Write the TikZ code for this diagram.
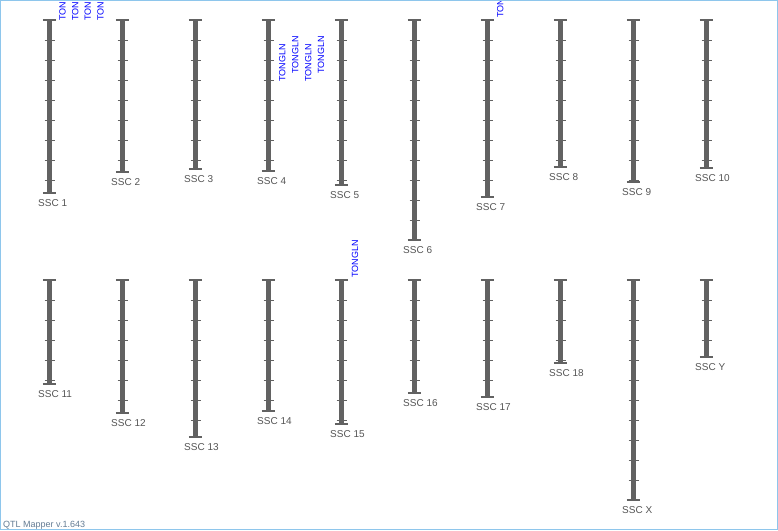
\documentclass[tikz,border=0pt]{standalone}
\usepackage{fontspec}
\setmainfont{Liberation Sans}
\definecolor{barcol}{HTML}{626262}
\definecolor{labcol}{HTML}{555555}
\definecolor{framecol}{HTML}{8EC6EC}
\definecolor{vercol}{HTML}{647C94}
\tikzset{
  chrbar/.style={line width=4.6pt, draw=barcol},
  chrcap/.style={line width=2pt, draw=barcol},
  chrtick/.style={line width=1pt, draw=barcol},
  chrlabel/.style={font=\fontsize{10}{12}\selectfont, text=labcol, anchor=west, inner sep=0pt},
  qtllabel/.style={font=\fontsize{9}{11}\selectfont, text=blue, rotate=90, anchor=west, inner sep=0pt},
  verlabel/.style={font=\fontsize{9}{11}\selectfont, text=vercol, anchor=base west, inner sep=0pt}
}
\newcommand\chrom[5]{%
  \pgfmathtruncatemacro\nticks{floor((#3-#2-1)/20)}%
  \draw[chrbar] (#1,#2) -- (#1,#3);
  \foreach \k in {1,...,\nticks} {\draw[chrtick] (#1-5,#2+20*\k+0.5) -- (#1+5,#2+20*\k+0.5);}
  \draw[chrcap] (#1-6.7,#2) -- (#1+6.7,#2);
  \draw[chrcap] (#1-6.7,#3) -- (#1+6.7,#3);
  \node[chrlabel] (#5) at (#1-11.5,#3+10.5) {#4};
}
\begin{document}
\begin{tikzpicture}[x=1pt,y=-1pt]
\useasboundingbox (0,0) rectangle (778,530);
\fill[white] (0,0) rectangle (778,530);
\begin{scope}
\clip (0,0) rectangle (778,530);
% top row
\chrom{49.5}{20}{193}{SSC 1}{c1}
\chrom{122.5}{20}{172}{SSC 2}{c2}
\chrom{195.5}{20}{169}{SSC 3}{c3}
\chrom{268.5}{20}{171}{SSC 4}{c4}
\chrom{341.5}{20}{185}{SSC 5}{c5}
\chrom{414.5}{20}{240}{SSC 6}{c6}
\chrom{487.5}{20}{197}{SSC 7}{c7}
\chrom{560.5}{20}{167}{SSC 8}{c8}
\chrom{633.5}{20}{182}{SSC 9}{c9}
\chrom{706.5}{20}{168}{SSC 10}{c10}
% bottom row
\chrom{49.5}{280}{384}{SSC 11}{c11}
\chrom{122.5}{280}{413}{SSC 12}{c12}
\chrom{195.5}{280}{437}{SSC 13}{c13}
\chrom{268.5}{280}{411}{SSC 14}{c14}
\chrom{341.5}{280}{424}{SSC 15}{c15}
\chrom{414.5}{280}{393}{SSC 16}{c16}
\chrom{487.5}{280}{397}{SSC 17}{c17}
\chrom{560.5}{280}{363}{SSC 18}{c18}
\chrom{633.5}{280}{500}{SSC X}{cX}
\chrom{706.5}{280}{357}{SSC Y}{cY}
% QTL labels
\node[qtllabel] (q1a) at (62.5,21) {TONGLN};
\node[qtllabel] (q1b) at (75.2,21) {TONGLN};
\node[qtllabel] (q1c) at (87.9,21) {TONGLN};
\node[qtllabel] (q1d) at (100.6,21) {TONGLN};
\node[qtllabel] (q4a) at (282.3,82) {TONGLN};
\node[qtllabel] (q4b) at (295.3,74) {TONGLN};
\node[qtllabel] (q4c) at (308.3,82) {TONGLN};
\node[qtllabel] (q4d) at (321.0,74) {TONGLN};
\node[qtllabel] (q7a) at (500.3,18) {TONGLN};
\node[qtllabel] (q15a) at (355.0,278) {TONGLN};
\end{scope}
\node[verlabel] (ver) at (3,527) {QTL Mapper v.1.643};
\draw[framecol, line width=1pt] (0.5,0.5) rectangle (777.5,529.5);
\end{tikzpicture}
\end{document}
